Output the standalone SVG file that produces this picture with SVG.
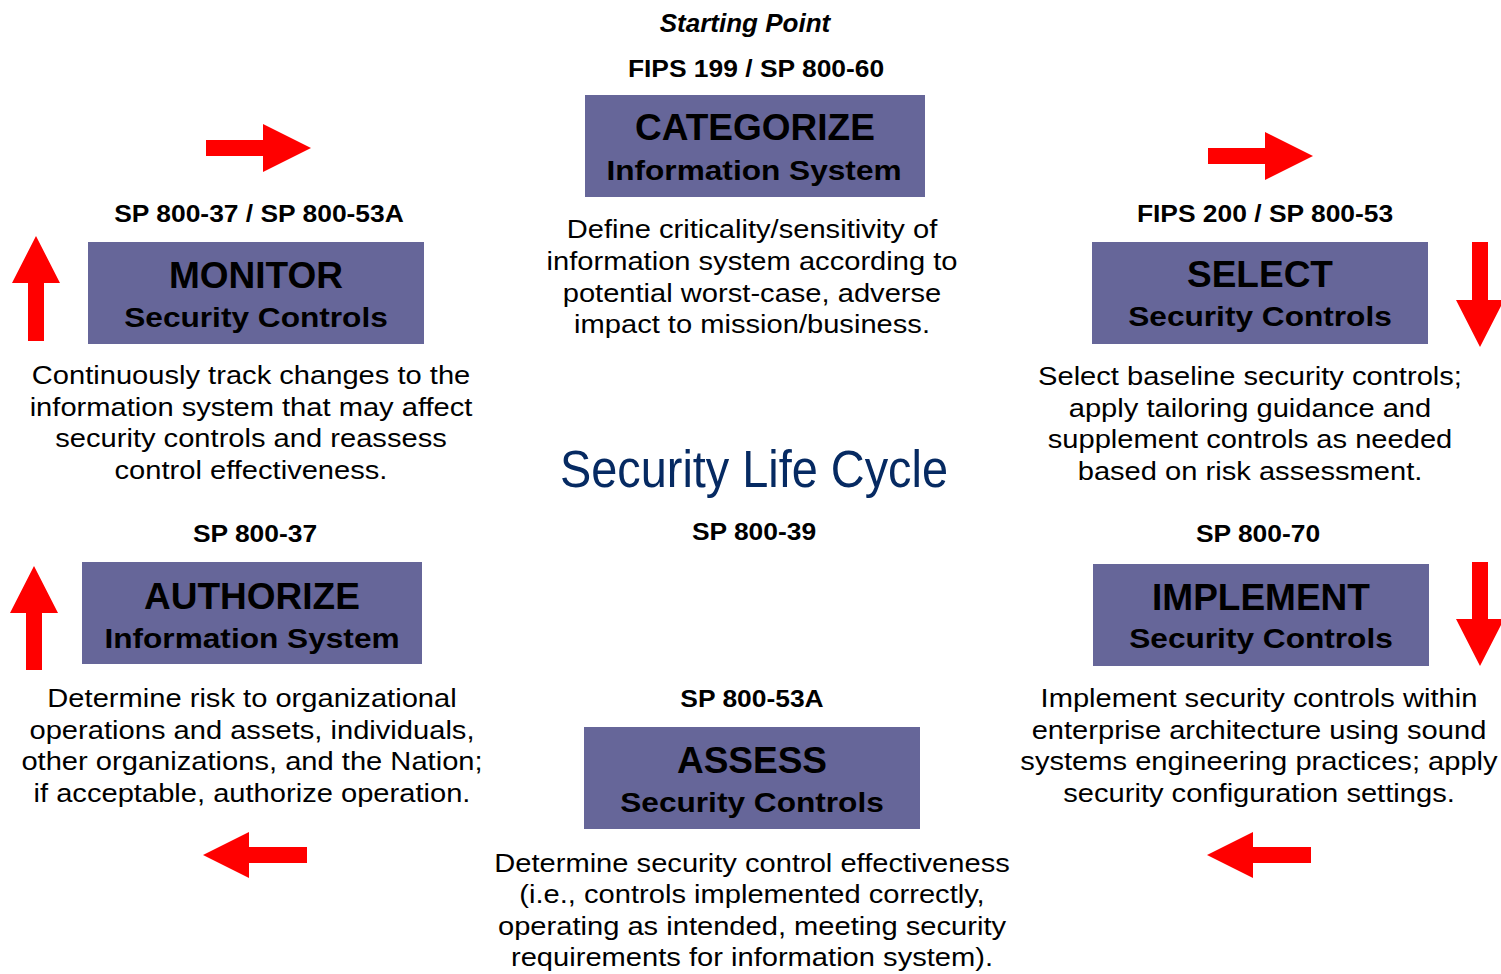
<svg xmlns="http://www.w3.org/2000/svg" width="1501" height="974" viewBox="0 0 1501 974">
<style>
text{font-family:"Liberation Sans",Arial,Helvetica,sans-serif;fill:#000;text-anchor:middle}
.box{fill:#666699}
.h{font-size:37px;font-weight:bold}
.sub{font-size:28px;font-weight:bold}
.lbl{font-size:24px;font-weight:bold}
.p{font-size:26px}
.arrow{fill:#ff0000}
.title{font-size:51px;fill:#062a62}
</style>
<rect width="1501" height="974" fill="#fff"/>

<g id="connectors">
<polygon class="arrow" points="206,140 263,140 263,124 311,148 263,172 263,156 206,156"/>
<polygon class="arrow" points="1208,148 1265,148 1265,132 1313,156 1265,180 1265,164 1208,164"/>
<polygon class="arrow" points="1472,242 1488,242 1488,300 1504,300 1480,347 1456,300 1472,300"/>
<polygon class="arrow" points="1472,562 1488,562 1488,619 1504,619 1480,666 1456,619 1472,619"/>
<polygon class="arrow" points="1311,847 1253,847 1253,832 1207,855 1253,878 1253,863 1311,863"/>
<polygon class="arrow" points="307,847 249,847 249,832 203,855 249,878 249,863 307,863"/>
<polygon class="arrow" points="26,670 42,670 42,613 58,613 34,566 10,613 26,613"/>
<polygon class="arrow" points="28,341 44,341 44,283 60,283 36,236 12,283 28,283"/>
</g>

<g id="center">
<text class="title" x="754" y="487" textLength="388" lengthAdjust="spacingAndGlyphs">Security Life Cycle</text>
<text class="lbl" transform="translate(754,540) scale(1.1,1)">SP 800-39</text>
</g>

<g id="categorize">
<text x="745" y="32" style="font-size:26px;font-weight:bold;font-style:italic">Starting Point</text>
<text class="lbl" transform="translate(756,77) scale(1.1,1)">FIPS 199 / SP 800-60</text>
<rect class="box" x="585" y="95" width="340" height="102"/>
<text class="h" x="755" y="140">CATEGORIZE</text>
<text class="sub" transform="translate(754,180) scale(1.13,1)">Information System</text>
<g class="p" transform="translate(752,0) scale(1.12,1)">
<text y="238">Define criticality/sensitivity of</text>
<text y="270">information system according to</text>
<text y="302">potential worst-case, adverse</text>
<text y="333">impact to mission/business.</text>
</g>
</g>

<g id="select">
<text class="lbl" transform="translate(1265,222) scale(1.1,1)">FIPS 200 / SP 800-53</text>
<rect class="box" x="1092" y="242" width="336" height="102"/>
<text class="h" x="1260" y="287">SELECT</text>
<text class="sub" transform="translate(1260,326) scale(1.13,1)">Security Controls</text>
<g class="p" transform="translate(1250,0) scale(1.12,1)">
<text y="385">Select baseline security controls;</text>
<text y="417">apply tailoring guidance and</text>
<text y="448">supplement controls as needed</text>
<text y="480">based on risk assessment.</text>
</g>
</g>

<g id="implement">
<text class="lbl" transform="translate(1258,542) scale(1.1,1)">SP 800-70</text>
<rect class="box" x="1093" y="564" width="336" height="102"/>
<text class="h" x="1261" y="610">IMPLEMENT</text>
<text class="sub" transform="translate(1261,648) scale(1.13,1)">Security Controls</text>
<g class="p" transform="translate(1259,0) scale(1.12,1)">
<text y="707">Implement security controls within</text>
<text y="739">enterprise architecture using sound</text>
<text y="770">systems engineering practices; apply</text>
<text y="802">security configuration settings.</text>
</g>
</g>

<g id="assess">
<text class="lbl" transform="translate(752,707) scale(1.1,1)">SP 800-53A</text>
<rect class="box" x="584" y="727" width="336" height="102"/>
<text class="h" x="752" y="773">ASSESS</text>
<text class="sub" transform="translate(752,812) scale(1.13,1)">Security Controls</text>
<g class="p" transform="translate(752,0) scale(1.12,1)">
<text y="872">Determine security control effectiveness</text>
<text y="903">(i.e., controls implemented correctly,</text>
<text y="935">operating as intended, meeting security</text>
<text y="966">requirements for information system).</text>
</g>
</g>

<g id="authorize">
<text class="lbl" transform="translate(255,542) scale(1.1,1)">SP 800-37</text>
<rect class="box" x="82" y="562" width="340" height="102"/>
<text class="h" x="252" y="609">AUTHORIZE</text>
<text class="sub" transform="translate(252,648) scale(1.13,1)">Information System</text>
<g class="p" transform="translate(252,0) scale(1.12,1)">
<text y="707">Determine risk to organizational</text>
<text y="739">operations and assets, individuals,</text>
<text y="770">other organizations, and the Nation;</text>
<text y="802">if acceptable, authorize operation.</text>
</g>
</g>

<g id="monitor">
<text class="lbl" transform="translate(259,222) scale(1.1,1)">SP 800-37 / SP 800-53A</text>
<rect class="box" x="88" y="242" width="336" height="102"/>
<text class="h" x="256" y="288">MONITOR</text>
<text class="sub" transform="translate(256,327) scale(1.13,1)">Security Controls</text>
<g class="p" transform="translate(251,0) scale(1.12,1)">
<text y="384">Continuously track changes to the</text>
<text y="416">information system that may affect</text>
<text y="447">security controls and reassess</text>
<text y="479">control effectiveness.</text>
</g>
</g>
</svg>
